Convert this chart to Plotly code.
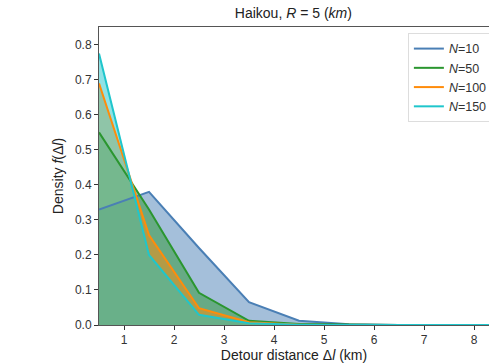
import plotly.graph_objects as go

x_mid = [0.5, 1.5, 2.5, 3.5, 4.5, 5.5, 6.5, 7.5, 8.5]
series_names = ["<i>N</i>=10", "<i>N</i>=50", "<i>N</i>=100", "<i>N</i>=150"]
dens_n10 = [0.33, 0.38, 0.22, 0.065, 0.012, 0.002, 0.0, 0.0, 0.0]
dens_n50 = [0.55, 0.33, 0.092, 0.012, 0.003, 0.0005, 0.0, 0.0, 0.0]
dens_n100 = [0.69, 0.257, 0.048, 0.008, 0.001, 0.0, 0.0, 0.0, 0.0]
dens_n150 = [0.775, 0.20, 0.029, 0.005, 0.001, 0.0, 0.0, 0.0, 0.0]
line_colors = ["#4a7fb5", "#2a962f", "#ff8c0a", "#1fc6cc"]
fill_colors = ["rgba(74,127,181,0.5)", "rgba(42,150,47,0.5)",
               "rgba(255,140,10,0.5)", "rgba(31,198,204,0.5)"]
x_ticks = [1, 2, 3, 4, 5, 6, 7, 8]
y_ticks = [0.0, 0.1, 0.2, 0.3, 0.4, 0.5, 0.6, 0.7, 0.8]

all_dens = [dens_n10, dens_n50, dens_n100, dens_n150]

fig = go.Figure()
for d, fc in zip(all_dens, fill_colors):
    fig.add_trace(go.Scatter(x=x_mid, y=d, mode="lines", fill="tozeroy",
                             fillcolor=fc, line=dict(width=0),
                             showlegend=False, hoverinfo="skip"))
for d, name, lc in zip(all_dens, series_names, line_colors):
    fig.add_trace(go.Scatter(x=x_mid, y=d, mode="lines", name=name,
                             line=dict(color=lc, width=2)))

font_fam = "Liberation Sans, Arial, sans-serif"
fig.update_layout(
    width=489, height=363,
    margin=dict(l=99, r=0, t=27, b=38, autoexpand=False),
    paper_bgcolor="white", plot_bgcolor="white",
    font=dict(family=font_fam, size=12, color="#333"),
    title=dict(text="Haikou, <i>R</i> = 5 (<i>km</i>)", x=0.6, xanchor="center",
               y=1 - 13/363, yanchor="middle",
               font=dict(size=14, color="#222")),
    xaxis=dict(range=[0.5, 8.3], tickvals=x_ticks, ticks="outside", ticklen=4,
               tickcolor="#333", showgrid=False, zeroline=False,
               showline=True, mirror=True, linecolor="#555", linewidth=1,
               automargin=False,
               tickfont=dict(size=12, color="#333"),
               title=dict(text="Detour distance Δ<i>l</i> (km)", standoff=4,
                          font=dict(size=14, color="#222"))),
    yaxis=dict(range=[0, 0.851], tickvals=y_ticks, tickformat=".1f",
               ticks="outside", ticklen=4, tickcolor="#333", automargin=False,
               showgrid=False, zeroline=False, showline=True, linecolor="#555",
               linewidth=1, tickfont=dict(size=12, color="#333"),
               title=dict(text="Density <i>f</i>(Δ<i>l</i>)", standoff=8,
                          font=dict(size=14, color="#222"))),
    legend=dict(x=0.792, y=0.98, xanchor="left", yanchor="top",
                bgcolor="white", bordercolor="#ddd", borderwidth=1,
                font=dict(size=12.5, color="#333"), tracegroupgap=0),
)

fig.write_html("out.html")
